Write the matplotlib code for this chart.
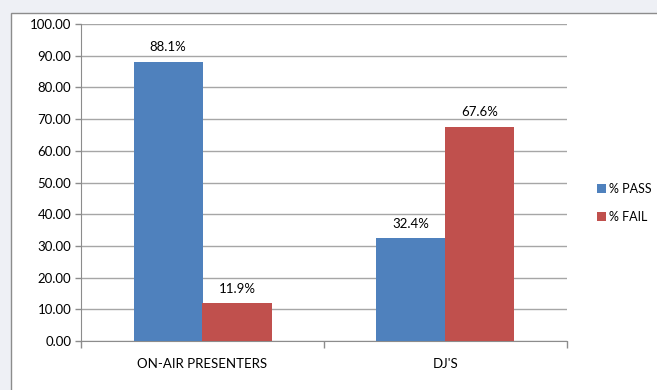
import matplotlib.pyplot as plt
from matplotlib.patches import Rectangle
import numpy as np

categories = ["ON-AIR PRESENTERS", "DJ'S"]
pass_pct = [88.1, 32.4]
fail_pct = [11.9, 67.6]
series_names = ["% PASS", "% FAIL"]
yticks = [0, 10, 20, 30, 40, 50, 60, 70, 80, 90, 100]

plt.rcParams['font.family'] = ['Lato', 'DejaVu Sans']
W, H = 657, 390
fig = plt.figure(figsize=(W / 100, H / 100), dpi=100)
fig.patch.set_facecolor('#eef0f5')

# white chart box with grey border
fig.patches.append(Rectangle((11 / W, -0.1), 1.2, 1 - 13 / H + 0.1,
                             transform=fig.transFigure, facecolor='white',
                             edgecolor='#8c8c8c', linewidth=1, zorder=-5))

ax = fig.add_axes([81 / W, 1 - 341 / H, (567 - 81) / W, (341 - 24) / H])
ax.set_zorder(2)
ax.set_facecolor('none')

fs = 9.5
x = np.arange(len(categories))
bw = 69 / 243
b1 = ax.bar(x - bw / 2, pass_pct, bw, color='#4f81bd', label=series_names[0], zorder=3)
b2 = ax.bar(x + bw / 2, fail_pct, bw, color='#c0504d', label=series_names[1], zorder=3)
for bars, vals in [(b1, pass_pct), (b2, fail_pct)]:
    for r, v in zip(bars, vals):
        ax.annotate(f"{v:.1f}%", (r.get_x() + r.get_width() / 2, v),
                    xytext=(0, 6), textcoords='offset points',
                    ha='center', va='bottom', fontsize=fs)

ax.set_xlim(-0.5, 1.5)
ax.set_ylim(0, 100)
ax.set_yticks(yticks)
ax.set_yticklabels([f"{t:.2f}" for t in yticks], fontsize=fs)
ax.set_xticks(x)
ax.set_xticklabels(categories, fontsize=fs)
ax.tick_params(axis='x', length=0, pad=12)
ax.tick_params(axis='y', length=4, color='#8c8c8c', width=1, pad=3)
# category separator ticks
ax.set_xticks([-0.5, 0.5, 1.5], minor=True)
ax.tick_params(axis='x', which='minor', length=5, color='#8c8c8c', width=1)

ax.grid(axis='y', color='#a6a6a6', linewidth=1, zorder=0)
for s in ['top', 'right']:
    ax.spines[s].set_visible(False)
ax.spines['left'].set_color('#8c8c8c')
ax.spines['bottom'].set_color('#8c8c8c')

ax.legend(loc='center left', bbox_to_anchor=(588 / W, 1 - 203 / H),
          bbox_transform=fig.transFigure, frameon=False, fontsize=9,
          handlelength=0.7, handleheight=0.7, handletextpad=0.25,
          labelspacing=1.3, borderpad=0.2)

fig.savefig("out.png", dpi=100, facecolor=fig.get_facecolor())
